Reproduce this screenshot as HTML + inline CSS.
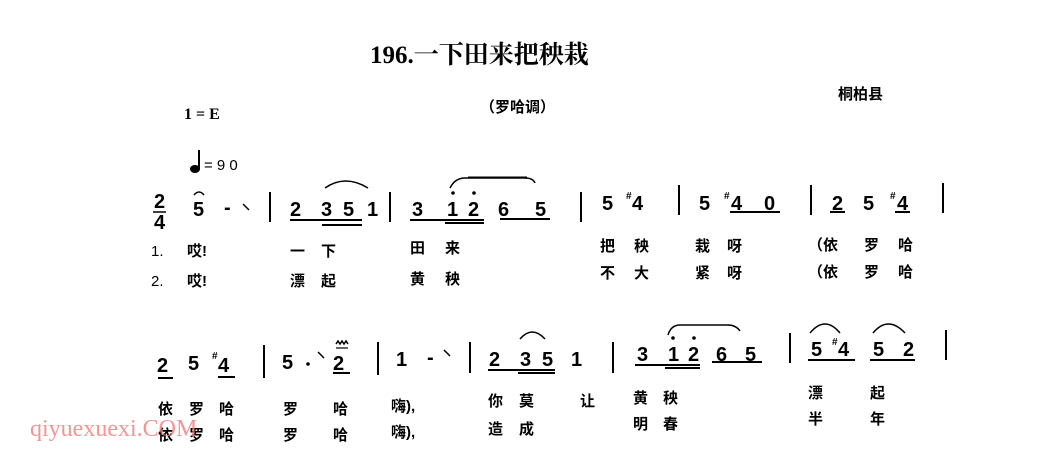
<!DOCTYPE html>
<html><head><meta charset="utf-8"><style>
html,body{margin:0;padding:0;background:#fff;}
svg{display:block}
.n{font-family:"Liberation Sans",sans-serif;font-weight:bold;font-size:20px;fill:#000}
.s{font-family:"Liberation Sans",sans-serif;font-size:10px;fill:#000;font-weight:bold}
.l{font-family:"Liberation Sans","Noto Sans CJK SC",sans-serif;font-size:15px;fill:#000;font-weight:bold}
.ln{stroke:#000;stroke-width:2;fill:none}
.sl{stroke:#000;stroke-width:1.5;fill:none}
</style></head><body>
<svg width="1052" height="458" viewBox="0 0 1052 458" xmlns="http://www.w3.org/2000/svg">
<text x="370" y="63" font-family="Liberation Serif,Noto Serif CJK SC,serif" font-weight="bold" font-size="25">196.一下田来把秧栽</text>
<text x="838" y="99" class="l" font-size="16">桐柏县</text>
<text x="184" y="119" font-family="Liberation Serif,serif" font-weight="bold" font-size="16">1 = E</text>
<text x="480" y="112" class="l">（罗哈调）</text>
<ellipse cx="195" cy="169" rx="5" ry="4" fill="#000"/><line x1="199" y1="169" x2="199" y2="150" stroke="#000" stroke-width="2"/>
<text x="204" y="170" font-family="Liberation Sans,sans-serif" font-size="15">= 9 0</text>
<line x1="468" y1="177" x2="527" y2="177" stroke="#000" stroke-width="1"/>

<!-- row 1 notes -->
<text x="154" y="208" class="n" font-size="15">2</text>
<line x1="153" y1="212" x2="166" y2="212" stroke="#000" stroke-width="1.5"/>
<text x="154" y="229" class="n" font-size="15">4</text>
<text x="193" y="216" class="n">5</text>
<path d="M194 195 q5 -6 10 0" class="sl"/>
<text x="224" y="214" class="n">-</text>
<path d="M243 204 l6 6" class="sl"/>
<line x1="270" y1="192" x2="270" y2="222" class="ln"/>
<text x="290" y="216" class="n">2</text><text x="321" y="216" class="n">3</text><text x="343" y="216" class="n">5</text><text x="367" y="216" class="n">1</text>
<line x1="290" y1="220" x2="362" y2="220" class="ln"/><line x1="322" y1="225" x2="362" y2="225" class="ln"/>
<path d="M325 188 q20 -14 43 0" class="sl"/>
<line x1="390" y1="192" x2="390" y2="222" class="ln"/>
<text x="412" y="216" class="n">3</text><text x="447" y="216" class="n">1</text><text x="468" y="216" class="n">2</text><text x="498" y="216" class="n">6</text><text x="535" y="216" class="n">5</text>
<circle cx="453" cy="193" r="1.8"/><circle cx="474" cy="193" r="1.8"/>
<line x1="410" y1="220" x2="484" y2="220" class="ln"/><line x1="445" y1="223" x2="484" y2="223" class="ln"/><line x1="500" y1="219" x2="550" y2="219" class="ln"/>
<path d="M450 188 q5 -10 15 -10 h60 q8 0 10 5" class="sl"/>
<line x1="581" y1="192" x2="581" y2="222" class="ln"/>
<text x="602" y="210" class="n">5</text><text x="626" y="199" class="s">#</text><text x="632" y="210" class="n">4</text>
<line x1="679" y1="185" x2="679" y2="215" class="ln"/>
<text x="699" y="210" class="n">5</text><text x="724" y="199" class="s">#</text><text x="731" y="210" class="n">4</text><text x="764" y="210" class="n">0</text>
<line x1="730" y1="212" x2="780" y2="212" class="ln"/>
<line x1="811" y1="185" x2="811" y2="215" class="ln"/>
<text x="832" y="210" class="n">2</text><text x="863" y="210" class="n">5</text><text x="890" y="199" class="s">#</text><text x="897" y="210" class="n">4</text>
<line x1="830" y1="212" x2="845" y2="212" class="ln"/><line x1="895" y1="212" x2="910" y2="212" class="ln"/>
<line x1="943" y1="183" x2="943" y2="213" class="ln"/>

<!-- row 1 lyrics -->
<g class="l">
<text x="151" y="256" font-weight="normal">1.</text><text x="187" y="256">哎!</text><text x="290" y="256">一</text><text x="321" y="256">下</text><text x="410" y="253">田</text><text x="445" y="253">来</text>
<text x="600" y="251">把</text><text x="634" y="251">秧</text><text x="695" y="251">栽</text><text x="727" y="251">呀</text><text x="808" y="250">（依</text><text x="864" y="250">罗</text><text x="898" y="250">哈</text>
<text x="151" y="286" font-weight="normal">2.</text><text x="187" y="286">哎!</text><text x="290" y="286">漂</text><text x="321" y="286">起</text><text x="410" y="284">黄</text><text x="445" y="284">秧</text>
<text x="600" y="278">不</text><text x="634" y="278">大</text><text x="695" y="278">紧</text><text x="727" y="278">呀</text><text x="808" y="277">（依</text><text x="864" y="277">罗</text><text x="898" y="277">哈</text>
</g>

<!-- row 2 notes -->
<text x="157" y="372" class="n">2</text><text x="188" y="370" class="n">5</text><text x="212" y="359" class="s">#</text><text x="218" y="372" class="n">4</text>
<line x1="158" y1="378" x2="173" y2="378" class="ln"/><line x1="218" y1="377" x2="235" y2="377" class="ln"/>
<line x1="264" y1="345" x2="264" y2="378" class="ln"/>
<text x="282" y="369" class="n">5</text><circle cx="308" cy="364" r="1.8"/><path d="M318 352 l6 6" class="sl"/>
<text x="333" y="370" class="n">2</text><path d="M336 344 l2 -3 l2 3 l2 -3 l2 3 l2 -3 l2 3" class="sl" stroke-width="1"/><line x1="336" y1="348" x2="348" y2="348" stroke="#000" stroke-width="1.2"/>
<line x1="333" y1="373" x2="350" y2="373" class="ln"/>
<line x1="378" y1="342" x2="378" y2="375" class="ln"/>
<text x="396" y="366" class="n">1</text><text x="427" y="364" class="n">-</text><path d="M444 350 l6 6" class="sl"/>
<line x1="470" y1="342" x2="470" y2="373" class="ln"/>
<text x="489" y="366" class="n">2</text><text x="520" y="366" class="n">3</text><text x="542" y="366" class="n">5</text><text x="571" y="366" class="n">1</text>
<line x1="488" y1="370" x2="555" y2="370" class="ln"/><line x1="518" y1="373" x2="555" y2="373" class="ln"/>
<path d="M520 339 q12 -14 25 0" class="sl"/>
<line x1="613" y1="342" x2="613" y2="373" class="ln"/>
<text x="637" y="361" class="n">3</text><text x="668" y="361" class="n">1</text><text x="688" y="361" class="n">2</text><text x="716" y="361" class="n">6</text><text x="745" y="361" class="n">5</text>
<circle cx="673" cy="338" r="1.8"/><circle cx="694" cy="338" r="1.8"/>
<line x1="635" y1="365" x2="700" y2="365" class="ln"/><line x1="665" y1="368" x2="700" y2="368" class="ln"/><line x1="712" y1="362" x2="762" y2="362" class="ln"/>
<path d="M668 335 q3 -10 12 -10 h48 q8 0 12 6" class="sl"/>
<line x1="790" y1="333" x2="790" y2="363" class="ln"/>
<text x="811" y="356" class="n">5</text><text x="832" y="345" class="s">#</text><text x="838" y="356" class="n">4</text><text x="873" y="356" class="n">5</text><text x="903" y="356" class="n">2</text>
<line x1="808" y1="360" x2="855" y2="360" class="ln"/><line x1="870" y1="360" x2="915" y2="360" class="ln"/>
<path d="M810 333 q15 -18 30 0" class="sl"/><path d="M873 333 q15 -18 32 0" class="sl"/>
<line x1="946" y1="330" x2="946" y2="360" class="ln"/>

<!-- row 2 lyrics -->
<g class="l">
<text x="158" y="414">依</text><text x="189" y="414">罗</text><text x="219" y="414">哈</text><text x="283" y="414">罗</text><text x="333" y="414">哈</text><text x="391" y="411">嗨),</text>
<text x="488" y="406">你</text><text x="519" y="406">莫</text><text x="580" y="406">让</text><text x="633" y="403">黄</text><text x="663" y="403">秧</text><text x="808" y="398">漂</text><text x="870" y="398">起</text>
<text x="158" y="440">依</text><text x="189" y="440">罗</text><text x="219" y="440">哈</text><text x="283" y="440">罗</text><text x="333" y="440">哈</text><text x="391" y="437">嗨),</text>
<text x="488" y="434">造</text><text x="519" y="434">成</text><text x="633" y="429">明</text><text x="663" y="429">春</text><text x="808" y="424">半</text><text x="870" y="424">年</text>
</g>
<text x="30" y="436" font-family="Liberation Serif,serif" font-size="24" fill="#f07a7a" fill-opacity="0.8">qiyuexuexi.COM</text>
</svg>
</body></html>
